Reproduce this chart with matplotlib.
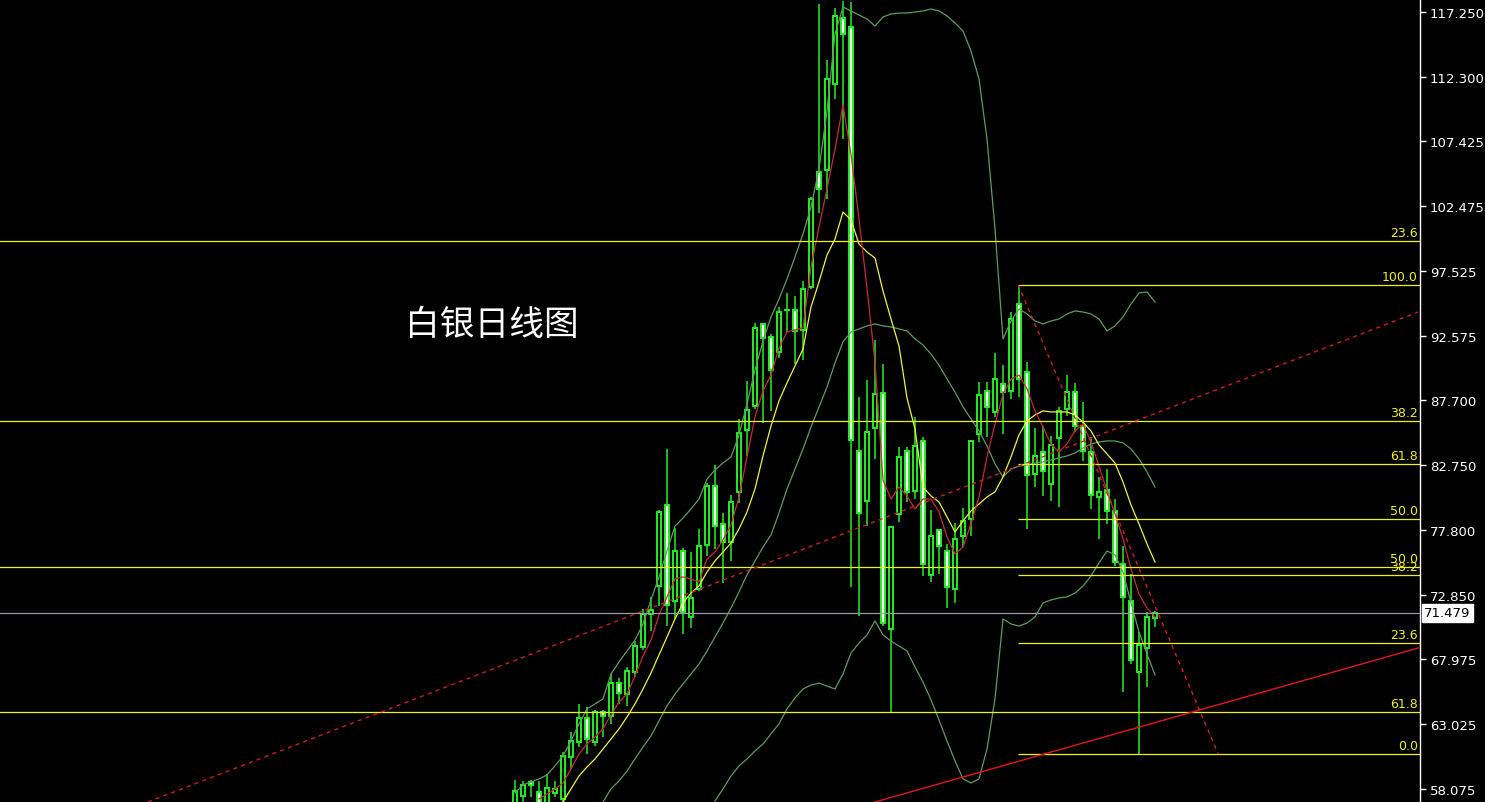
import matplotlib
matplotlib.use('Agg')
import matplotlib.pyplot as plt
import matplotlib.transforms as mtransforms
import numpy as np

plt.rcParams['font.family'] = ['DejaVu Sans']

# ---------------- data (daily silver candles) ----------------
opens = [56.85, 57.54, 58.61, 57.85, 56.85, 57.77, 57.31, 60.51, 61.66, 63.48,
         61.66, 63.94, 63.64, 66.14, 65.30, 66.98, 68.88, 71.40, 73.53, 79.70,
         72.39, 76.20, 71.17, 73.31, 76.66, 81.15, 78.26, 76.89, 80.70, 85.42,
         87.25, 93.49, 92.50, 91.35, 94.55, 94.55, 93.04, 96.31, 105.06, 105.21,
         111.77, 116.79, 116.11, 83.82, 80.01, 85.57, 88.23, 70.26, 79.02, 83.82,
         80.77, 84.58, 74.38, 77.80, 76.20, 73.31, 77.35, 78.64, 85.11, 88.39,
         86.79, 88.91, 88.39, 95.01, 89.83, 82.07, 83.74, 81.30, 84.81, 87.02,
         88.31, 85.72, 83.74, 80.31, 80.85, 79.25, 75.20, 72.39, 66.98, 68.80,
         71.09]
highs = [58.76, 58.68, 58.76, 58.68, 59.22, 58.68, 60.89, 62.42, 64.55, 64.32,
         64.09, 64.09, 66.83, 66.52, 67.36, 69.34, 71.78, 72.70, 79.32, 83.97,
         77.95, 76.43, 76.12, 77.88, 81.38, 82.75, 79.09, 80.47, 86.26, 89.14,
         93.56, 93.56, 92.72, 94.78, 95.85, 95.62, 96.76, 103.16, 117.86, 113.59,
         117.55, 118.09, 118.01, 87.93, 89.22, 92.27, 90.44, 78.10, 84.12, 84.12,
         86.41, 84.89, 79.32, 77.88, 76.73, 78.33, 79.47, 84.66, 89.07, 89.07,
         91.28, 90.36, 94.40, 96.46, 90.59, 85.57, 85.72, 84.97, 87.17, 89.60,
         89.00, 87.55, 84.89, 81.84, 82.44, 80.16, 76.58, 74.45, 70.03, 71.55,
         71.63]
lows = [56.55, 56.85, 57.47, 56.55, 56.55, 57.47, 57.08, 59.60, 61.27, 60.74,
        61.35, 62.04, 63.03, 64.55, 64.40, 66.60, 68.66, 70.10, 72.01, 70.48,
        71.02, 69.87, 70.33, 73.15, 75.82, 76.35, 73.76, 75.44, 79.86, 83.44,
        87.02, 85.95, 86.87, 90.88, 92.88, 90.44, 90.73, 96.16, 101.94, 103.01,
        110.62, 107.57, 73.46, 71.25, 78.10, 83.21, 70.48, 63.94, 78.41, 79.93,
        80.16, 74.30, 73.84, 74.45, 71.86, 72.24, 76.50, 77.35, 84.50, 84.89,
        86.41, 85.11, 87.78, 87.93, 77.88, 81.07, 80.39, 80.01, 79.55, 86.49,
        85.27, 83.06, 79.40, 77.12, 78.26, 75.05, 65.46, 67.59, 60.74, 65.87,
        70.41]
closes = [57.92, 58.38, 58.38, 56.85, 58.15, 58.08, 60.59, 61.73, 63.48, 61.88,
          63.94, 63.64, 66.14, 65.38, 67.06, 68.96, 71.40, 71.70, 79.17, 72.08,
          76.20, 71.55, 72.62, 76.58, 81.15, 78.10, 76.89, 79.93, 85.19, 86.94,
          93.18, 92.42, 89.98, 94.40, 94.55, 92.96, 96.16, 103.01, 103.77, 112.15,
          116.95, 115.57, 84.66, 79.09, 85.27, 88.15, 70.71, 78.03, 83.36, 80.70,
          84.20, 75.20, 77.35, 76.58, 73.46, 77.12, 78.48, 84.58, 88.08, 87.17,
          89.30, 88.31, 93.87, 89.30, 81.99, 83.44, 82.29, 84.27, 86.87, 88.31,
          85.72, 83.82, 80.47, 80.70, 79.25, 75.36, 72.70, 67.89, 69.04, 71.17,
          71.479]

# red moving average (first value at bar 3)
ma_fast_start = 3
ma_fast = [57.31, 57.69, 58.08, 58.53, 59.60, 60.74, 61.50, 62.04, 62.65, 63.71,
           64.70, 65.30, 66.68, 68.20, 69.42, 71.33, 72.70, 74.07, 74.22, 74.07,
           73.84, 75.59, 76.12, 77.04, 78.18, 80.31, 83.36, 86.41, 88.39, 89.60,
           91.67, 92.88, 93.04, 93.19, 97.83, 100.88, 103.77, 106.81, 110.17, 106.40,
           101.50, 96.20, 90.60, 81.60, 80.16, 81.07, 80.39, 79.40, 80.16, 80.16,
           79.17, 77.27, 75.97, 76.50, 78.26, 80.31, 83.36, 85.87, 88.15, 89.30,
           89.60, 88.54, 86.87, 85.64, 84.35, 83.74, 84.35, 85.34, 85.87, 84.50,
           82.67, 80.77, 79.02, 77.12, 74.83, 72.92, 71.86, 71.17]
# yellow moving average (first value at bar 6)
ma_slow_start = 6
ma_slow = [57.08, 58.08, 59.06, 59.75, 60.36, 61.12, 61.88, 62.65, 63.56, 64.55,
           65.69, 66.91, 68.28, 69.65, 71.02, 72.24, 73.00, 73.53, 74.60, 75.44,
           76.12, 76.81, 77.88, 79.17, 80.92, 83.44, 85.72, 87.63, 89.00, 90.29,
           91.58, 94.78, 96.69, 98.74, 99.96, 102.02, 101.41, 99.58, 98.97, 98.51,
           96.00, 93.87, 91.81, 87.85, 85.49, 81.07, 80.39, 79.93, 78.79, 77.65,
           78.48, 79.25, 79.78, 80.31, 80.70, 81.84, 83.36, 85.04, 86.10, 86.56,
           86.87, 86.79, 86.79, 86.79, 86.56, 86.02, 85.34, 84.27, 83.59, 82.90,
           81.45, 79.70, 78.26, 76.73, 75.36]
# Bollinger bands
bb_upper_start = 0
bb_upper = [57.77, 58.38, 58.61, 58.84, 59.14, 59.83, 60.59, 61.73, 63.03, 64.17,
            64.55, 64.93, 66.83, 67.75, 68.58, 69.42, 70.64, 72.47, 74.22, 76.20,
            78.10, 78.71, 79.40, 80.16, 81.68, 82.37, 82.90, 83.36, 85.04, 87.40,
            89.98, 92.19, 94.02, 95.39, 96.92, 98.59, 100.34, 102.40, 105.29, 109.71,
            115.57, 117.63, 117.33, 117.02, 116.72, 116.18, 116.87, 117.10, 117.17, 117.17,
            117.25, 117.33, 117.48, 117.33, 116.95, 116.41, 115.80, 114.28, 112.15, 107.57,
            100.73, 92.35, 93.72, 94.63, 94.25, 93.72, 93.49, 93.72, 93.87, 94.25,
            94.48, 94.40, 94.25, 93.87, 92.96, 93.34, 94.02, 95.01, 95.85, 95.93,
            95.16]
bb_mid_start = 11
bb_mid = [57.08, 58.08, 58.68, 59.44, 60.36, 61.27, 62.11, 63.26, 64.40, 65.30,
          66.07, 66.83, 67.59, 68.58, 69.65, 70.71, 71.86, 73.08, 74.38, 75.44,
          76.50, 77.42, 79.09, 80.92, 82.44, 83.97, 85.64, 87.17, 88.69, 90.52,
          92.12, 92.88, 93.11, 93.34, 93.49, 93.34, 93.26, 93.11, 92.96, 92.35,
          91.89, 91.20, 90.36, 89.30, 88.31, 87.17, 86.26, 85.34, 84.20, 82.83,
          81.84, 82.44, 82.67, 82.75, 82.90, 82.98, 83.13, 83.28, 83.44, 83.66,
          84.04, 84.35, 84.50, 84.58, 84.58, 84.43, 83.97, 83.21, 82.22, 81.07]
bb_lower_start = 25
bb_lower = [57.16, 58.08, 59.06, 59.83, 60.36, 60.97, 61.50, 62.27, 63.03, 64.17,
            65.00, 65.69, 65.99, 66.14, 65.91, 65.69, 66.83, 68.43, 69.19, 69.80,
            70.87, 69.80, 69.34, 68.96, 68.58, 67.36, 66.22, 64.85, 63.33, 61.73,
            60.21, 58.84, 58.53, 58.84, 61.12, 64.93, 71.02, 70.64, 70.48, 70.71,
            71.17, 72.24, 72.47, 72.62, 72.70, 73.00, 73.53, 74.30, 75.29, 76.20,
            75.90, 74.60, 72.24, 70.03, 68.36, 66.76]

# long-term Fibonacci levels (full width)
fib_long_levels = [99.81, 86.10, 74.98, 63.94]
fib_long_labels = ['23.6', '38.2', '50.0', '61.8']
# short-term Fibonacci (anchored at the bar-63 high)
fib_short_start = 62.9
fib_short_levels = [96.46, 82.83, 78.64, 74.37, 69.19, 60.74]
fib_short_labels = ['100.0', '61.8', '50.0', '38.2', '23.6', '0.0']
fib_short_diag_x = [62.9, 87.9]
fib_short_diag_y = [96.46, 60.74]

# trend lines (bar index, price)
trend_dashed_x = [-45.9, 112.9]
trend_dashed_y = [57.08, 94.40]
trend_solid_x = [45.0, 112.9]
trend_solid_y = [57.08, 68.81]

last_price = 71.479
yticks = [117.250, 112.300, 107.425, 102.475, 97.525, 92.575, 87.700,
          82.750, 77.800, 72.850, 67.975, 63.025, 58.075]
title_text = '白银日线图'

# ---------------- drawing ----------------
W, H = 1485, 803
fig = plt.figure(figsize=(W / 100, H / 100), dpi=100, facecolor='black')
ax = fig.add_axes([0, 0, 1420 / W, 1])
ax.set_facecolor('black')

GREEN = '#22F022'
o = np.array(opens); h = np.array(highs); l = np.array(lows); c = np.array(closes)
x = np.arange(len(o))
bull = c >= o

ax.vlines(x, l, h, color=GREEN, lw=1.1, zorder=3)
body_lo = np.minimum(o, c)
body_h = np.abs(c - o)
ax.bar(x, body_h, bottom=body_lo, width=0.62,
       color=np.where(bull, 'black', 'white'), edgecolor=GREEN,
       linewidth=1.4, zorder=4)
doji = body_h < 0.05
ax.hlines(c[doji], x[doji] - 0.38, x[doji] + 0.38, color=GREEN, lw=1.4, zorder=5)

def series(start, vals, **kw):
    xs = np.arange(start, start + len(vals))
    ax.plot(xs, vals, zorder=6, **kw)

BB = '#5E9C5E'
series(bb_upper_start, bb_upper, color=BB, lw=0.9)
series(bb_mid_start, bb_mid, color=BB, lw=0.9)
series(bb_lower_start, bb_lower, color=BB, lw=0.9)
series(ma_slow_start, ma_slow, color='#F2F23C', lw=0.9)
series(ma_fast_start, ma_fast, color='#C8283A', lw=0.9)

YEL = '#F0F020'
blend = mtransforms.blended_transform_factory(ax.transAxes, ax.transData)
for lv, lb in zip(fib_long_levels, fib_long_labels):
    ax.axhline(lv, color=YEL, lw=0.9, zorder=7)
    ax.annotate(lb, xy=(1, lv), xycoords=blend, xytext=(-1.5, 1.5),
                textcoords='offset points', ha='right', va='bottom',
                color=YEL, fontsize=9, zorder=8)

xmax = 113.125
for lv, lb in zip(fib_short_levels, fib_short_labels):
    ax.hlines(lv, fib_short_start, xmax, color=YEL, lw=0.9, zorder=7)
    ax.annotate(lb, xy=(1, lv), xycoords=blend, xytext=(-1.5, 1.5),
                textcoords='offset points', ha='right', va='bottom',
                color=YEL, fontsize=9, zorder=8)

ax.plot(fib_short_diag_x, fib_short_diag_y, color='#D02020', lw=1.0,
        linestyle=(0, (3, 3)), zorder=7)
ax.plot(trend_dashed_x, trend_dashed_y, color='#C82020', lw=1.0,
        linestyle=(0, (3, 3)), zorder=7)
ax.plot(trend_solid_x, trend_solid_y, color='#E01818', lw=1.0, zorder=7)

ax.axhline(last_price, color='#9A9AAA', lw=0.9, zorder=7)

ax.text(0.285, 0.595, title_text, transform=ax.transAxes, color='white',
        fontsize=25, va='center', ha='left',
        family=['Noto Sans CJK SC', 'DejaVu Sans'], zorder=9)

ax.set_xlim(-64.375, xmax)
ax.set_ylim(57.08, 118.24)
ax.set_xticks([])
ax.yaxis.tick_right()
ax.set_yticks(yticks)
ax.set_yticklabels(['%.3f' % v for v in yticks])
ax.tick_params(axis='y', colors='white', direction='out', length=4, width=1,
               labelsize=9.5, pad=3)
for s in ['top', 'left', 'bottom']:
    ax.spines[s].set_visible(False)
ax.spines['right'].set_color('white')
ax.spines['right'].set_linewidth(1)

ax.annotate('%.3f' % last_price, xy=(1, last_price), xycoords=blend,
            xytext=(3, 0), textcoords='offset points', ha='left', va='center',
            color='black', fontsize=9.5, annotation_clip=False,
            bbox=dict(boxstyle='square,pad=0.2', facecolor='white',
                      edgecolor='white'))

fig.savefig('out.png', dpi=100, facecolor='black')
